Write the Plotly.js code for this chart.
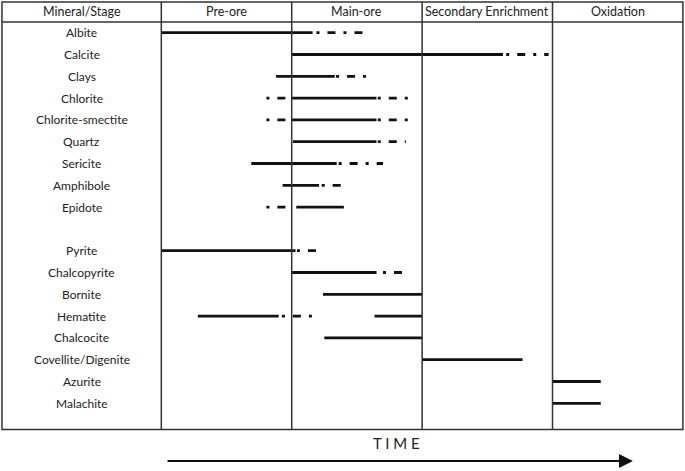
<!DOCTYPE html>
<html>
<head>
<meta charset="utf-8">
<script src="https://cdn.plot.ly/plotly-3.0.1.min.js"></script>
<style>html,body{margin:0;padding:0;background:#fff;}#chart{width:685px;height:471px;}</style>
</head>
<body>
<div id="chart"></div>
<script>
// Stages (columns), time in stage units: 0..4
const stages = ["Pre-ore", "Main-ore", "Secondary Enrichment", "Oxidation"];
const headerLabel = "Mineral/Stage";
const minerals = ["Albite", "Calcite", "Clays", "Chlorite", "Chlorite-smectite", "Quartz",
  "Sericite", "Amphibole", "Epidote",
  "Pyrite", "Chalcopyrite", "Bornite", "Hematite", "Chalcocite", "Covellite/Digenite",
  "Azurite", "Malachite"];
// solid (certain) ranges, per mineral
const solidSegs = [
  [[0, 1.16]], [[1.0, 2.62]], [[0.88, 1.33]], [[1.0, 1.65]], [[1.0, 1.65]], [[1.01, 1.65]],
  [[0.69, 1.345]], [[0.93, 1.21]], [[1.035, 1.40]],
  [[0, 1.03]], [[1.0, 1.65]], [[1.24, 2.0]], [[0.28, 0.90], [1.635, 2.0]], [[1.25, 2.0]], [[2.0, 2.77]],
  [[3.0, 3.37]], [[3.0, 3.37]]
];
// dashed (uncertain) ranges, per mineral
const dashSegs = [
  [[1.19, 1.57]], [[2.645, 2.97]], [[1.34, 1.57]], [[0.806, 1.0], [1.66, 1.92]], [[0.806, 1.0], [1.66, 1.92]], [[1.66, 1.875]],
  [[1.36, 1.70]], [[1.23, 1.42]], [[0.806, 1.0]],
  [[1.04, 1.20]], [[1.70, 1.85]], [], [[0.925, 1.155]], [], [],
  [], []
];
const axisTitle = "T I M E";

const FONT = "Lato, 'Open Sans', sans-serif";
const rowOf = i => (i < 9 ? i : i + 1);

function buildXY(segs) {
  const x = [], y = [];
  segs.forEach((list, i) => {
    list.forEach(s => { x.push(s[0], s[1], null); y.push(rowOf(i), rowOf(i), null); });
  });
  return {x, y};
}
const sol = buildXY(solidSegs);
const das = buildXY(dashSegs);

const traces = [
  {type: "scatter", mode: "lines", x: sol.x, y: sol.y, line: {color: "#111", width: 2.8}, hoverinfo: "skip", connectgaps: false},
  {type: "scatter", mode: "lines", x: das.x, y: das.y, line: {color: "#111", width: 2.8, dash: "3px,8px,8px,8px"}, hoverinfo: "skip", connectgaps: false}
];

const L = -1.222, R = 4.0, T = -1.408, HDR = -0.49, B = 18.2;
const lineStyle = {color: "#333", width: 1.5};
const shapes = [
  {type: "rect", xref: "x", yref: "y", x0: L, x1: R, y0: T, y1: B, line: lineStyle},
  {type: "line", xref: "x", yref: "y", x0: L, x1: R, y0: HDR, y1: HDR, line: lineStyle}
];
[0, 1, 2, 3].forEach(k => shapes.push({type: "line", xref: "x", yref: "y", x0: k, x1: k, y0: T, y1: B, line: lineStyle}));

const annotations = [];
const labelX = -0.612;
annotations.push({x: labelX, y: -0.95, xref: "x", yref: "y", text: headerLabel, showarrow: false, font: {family: FONT, size: 12.5, color: "#222"}});
stages.forEach((s, k) => annotations.push({x: k + 0.5, y: -0.95, xref: "x", yref: "y", text: s, showarrow: false, font: {family: FONT, size: 12.5, color: "#222"}}));
minerals.forEach((m, i) => annotations.push({x: labelX, y: rowOf(i), xref: "x", yref: "y", text: m, showarrow: false, font: {family: FONT, size: 12, color: "#222"}}));
annotations.push({x: 1.80, y: 18.82, xref: "x", yref: "y", text: axisTitle, showarrow: false, font: {family: FONT, size: 15, color: "#222"}});
annotations.push({x: 3.617, y: 19.65, xref: "x", yref: "y", ax: 0.036, ay: 19.65, axref: "x", ayref: "y", text: "", showarrow: true, arrowhead: 2, arrowsize: 1.4, arrowwidth: 2, arrowcolor: "#111"});

const layout = {
  width: 685, height: 471,
  margin: {l: 0, r: 0, t: 0, b: 0},
  paper_bgcolor: "#fff", plot_bgcolor: "#fff",
  showlegend: false,
  xaxis: {range: [-1.237, 4.016], visible: false, fixedrange: true},
  yaxis: {range: [20.106, -1.5], visible: false, fixedrange: true},
  shapes, annotations
};
Plotly.newPlot("chart", traces, layout, {staticPlot: true, displayModeBar: false});
</script>
</body>
</html>
